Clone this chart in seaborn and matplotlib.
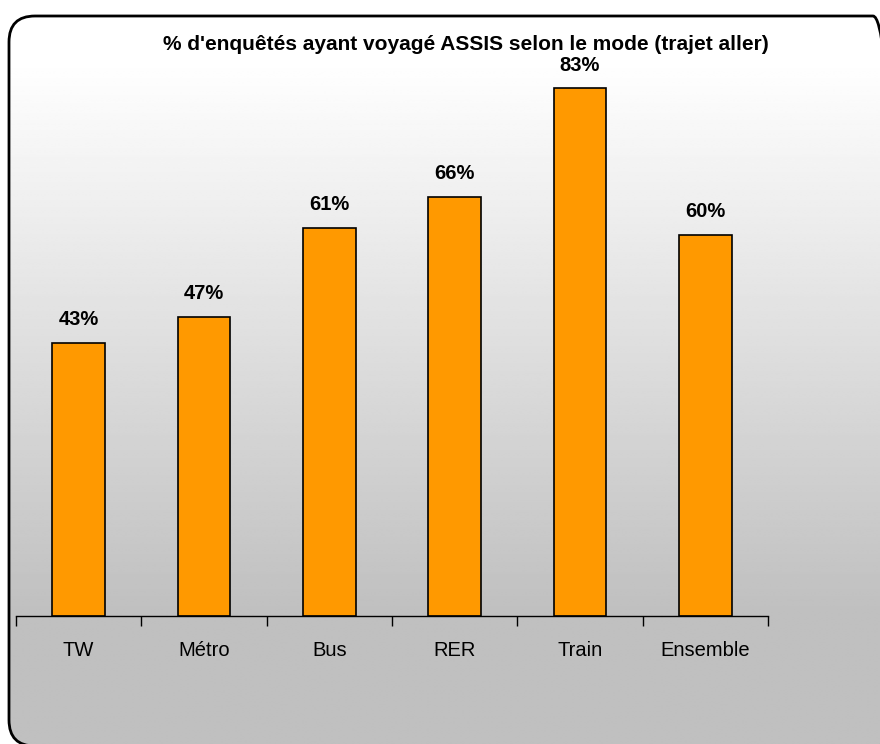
import numpy as np
import matplotlib
matplotlib.use("Agg")
import matplotlib.pyplot as plt
from matplotlib.patches import FancyBboxPatch
import seaborn as sns

modes = ["TW", "Métro", "Bus", "RER", "Train", "Ensemble"]
assis_pct = [43, 47, 61, 66, 83, 60]
title = "% d'enquêtés ayant voyagé ASSIS selon le mode (trajet aller)"

sns.set_style("white")
plt.rcParams["font.family"] = ["Liberation Sans", "DejaVu Sans"]
plt.rcParams["text.color"] = "black"
plt.rcParams["xtick.color"] = "black"

W, H = 880, 744
fig = plt.figure(figsize=(W / 100, H / 100), dpi=100)
fig.patch.set_facecolor("white")

# background: rounded frame filled with vertical white -> gray gradient
bg = fig.add_axes([0, 0, 1, 1], zorder=0)
bg.set_xlim(0, W)
bg.set_ylim(0, H)
bg.axis("off")
rows = np.linspace(0, H, 300)  # from top of the figure downwards
shade = np.clip((rows - 60) / (610 - 60), 0, 1)
col = 1.0 - shade * (1.0 - 0.753)
grad = np.repeat(col[:, None], 2, axis=1)
im = bg.imshow(grad, cmap="gray", vmin=0, vmax=1, extent=[0, W, 0, H],
               origin="upper", aspect="auto", interpolation="bilinear")
frame = FancyBboxPatch((9, -2), 890, H - 16 + 2,
                       boxstyle="round,pad=0,rounding_size=26",
                       facecolor="none", edgecolor="black", linewidth=2)
bg.add_patch(frame)
im.set_clip_path(frame)

# bars
ax = fig.add_axes([16 / W, 128 / H, 752 / W, 572 / H], zorder=1)
ax.patch.set_alpha(0)
sns.barplot(x=modes, y=assis_pct, color="#FF9900", edgecolor="black",
            linewidth=1.2, width=0.42, saturation=1, ax=ax)
ax.set_xlim(-0.5, len(modes) - 0.5)
ax.set_ylim(0, 90)
for i, v in enumerate(assis_pct):
    ax.text(i, v + 2.2, f"{v}%", ha="center", va="bottom",
            fontsize=14.5, fontweight="bold", color="black")

for s in ["top", "right", "left"]:
    ax.spines[s].set_visible(False)
ax.spines["bottom"].set_color("black")
ax.spines["bottom"].set_linewidth(1)
ax.set_yticks([])
ax.set_xticks(range(len(modes)))
ax.set_xticklabels(modes, fontsize=14.5, color="black")
ax.tick_params(axis="x", which="major", length=0, pad=18)
ax.set_xticks(np.arange(-0.5, len(modes)), minor=True)
ax.tick_params(axis="x", which="minor", bottom=True, length=7, width=1,
               color="black", direction="out")
ax.set_xlabel("")
ax.set_ylabel("")

fig.text(466 / W, 1 - 45 / H, title, ha="center", va="center",
         fontsize=15, fontweight="bold", color="black")

fig.savefig("out.png", dpi=100)
